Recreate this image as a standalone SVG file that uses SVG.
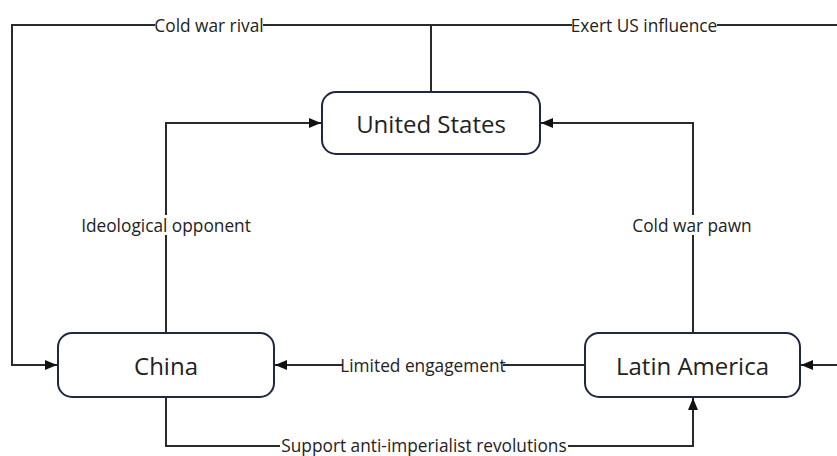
<svg xmlns="http://www.w3.org/2000/svg" width="837" height="456" viewBox="0 0 837 456">
<style>
.node rect{fill:#fff;stroke:#1e2845;stroke-width:2}
.node text{font-family:"Open Sans","Liberation Sans",sans-serif;font-size:24px;fill:#222;text-anchor:middle;dominant-baseline:central}
.edge{fill:none;stroke:#2a2a2a;stroke-width:2}
.lbl rect{fill:#fff}
.lbl text{font-family:"Open Sans","Liberation Sans",sans-serif;font-size:17.3px;fill:#222;text-anchor:middle;dominant-baseline:central}
</style>
<defs>
<marker id="arr" viewBox="0 0 12 10" refX="12" refY="5" markerWidth="12" markerHeight="10" markerUnits="userSpaceOnUse" orient="auto">
<path d="M0,0 L12,5 L0,10 Z" fill="#111"/>
</marker>
</defs>
<rect width="837" height="456" fill="#fff"/>
<g id="connectors">
<path class="edge" d="M431,92 V25 H12 V365 H57" marker-end="url(#arr)"/>
<path class="edge" d="M431,92 V25 H850 V365 H801" marker-end="url(#arr)"/>
<path class="edge" d="M166,333 V123 H321" marker-end="url(#arr)"/>
<path class="edge" d="M693,333 V123 H541" marker-end="url(#arr)"/>
<path class="edge" d="M585,365 H275" marker-end="url(#arr)"/>
<path class="edge" d="M166,397 V446 H693 V398" marker-end="url(#arr)"/>
<g class="lbl">
<rect x="155" y="15" width="108" height="20"/><text x="209" y="25">Cold war rival</text>
<rect x="572" y="15" width="145" height="20"/><text x="644" y="25">Exert US influence</text>
<rect x="80" y="215" width="172" height="20"/><text x="166" y="225">Ideological opponent</text>
<rect x="633" y="215" width="119" height="20"/><text x="692" y="225">Cold war pawn</text>
<rect x="343" y="355" width="160" height="20"/><text x="423" y="365">Limited engagement</text>
<rect x="280" y="437" width="288" height="19"/><text x="424" y="445">Support anti-imperialist revolutions</text>
</g>
</g>
<g id="node-us" class="node"><rect x="322" y="92" width="218" height="62" rx="14"/><text x="431" y="123">United States</text></g>
<g id="node-china" class="node"><rect x="58" y="333" width="216" height="64" rx="14"/><text x="166" y="365">China</text></g>
<g id="node-latam" class="node"><rect x="585" y="333" width="215" height="64" rx="14"/><text x="692.5" y="365">Latin America</text></g>
</svg>
